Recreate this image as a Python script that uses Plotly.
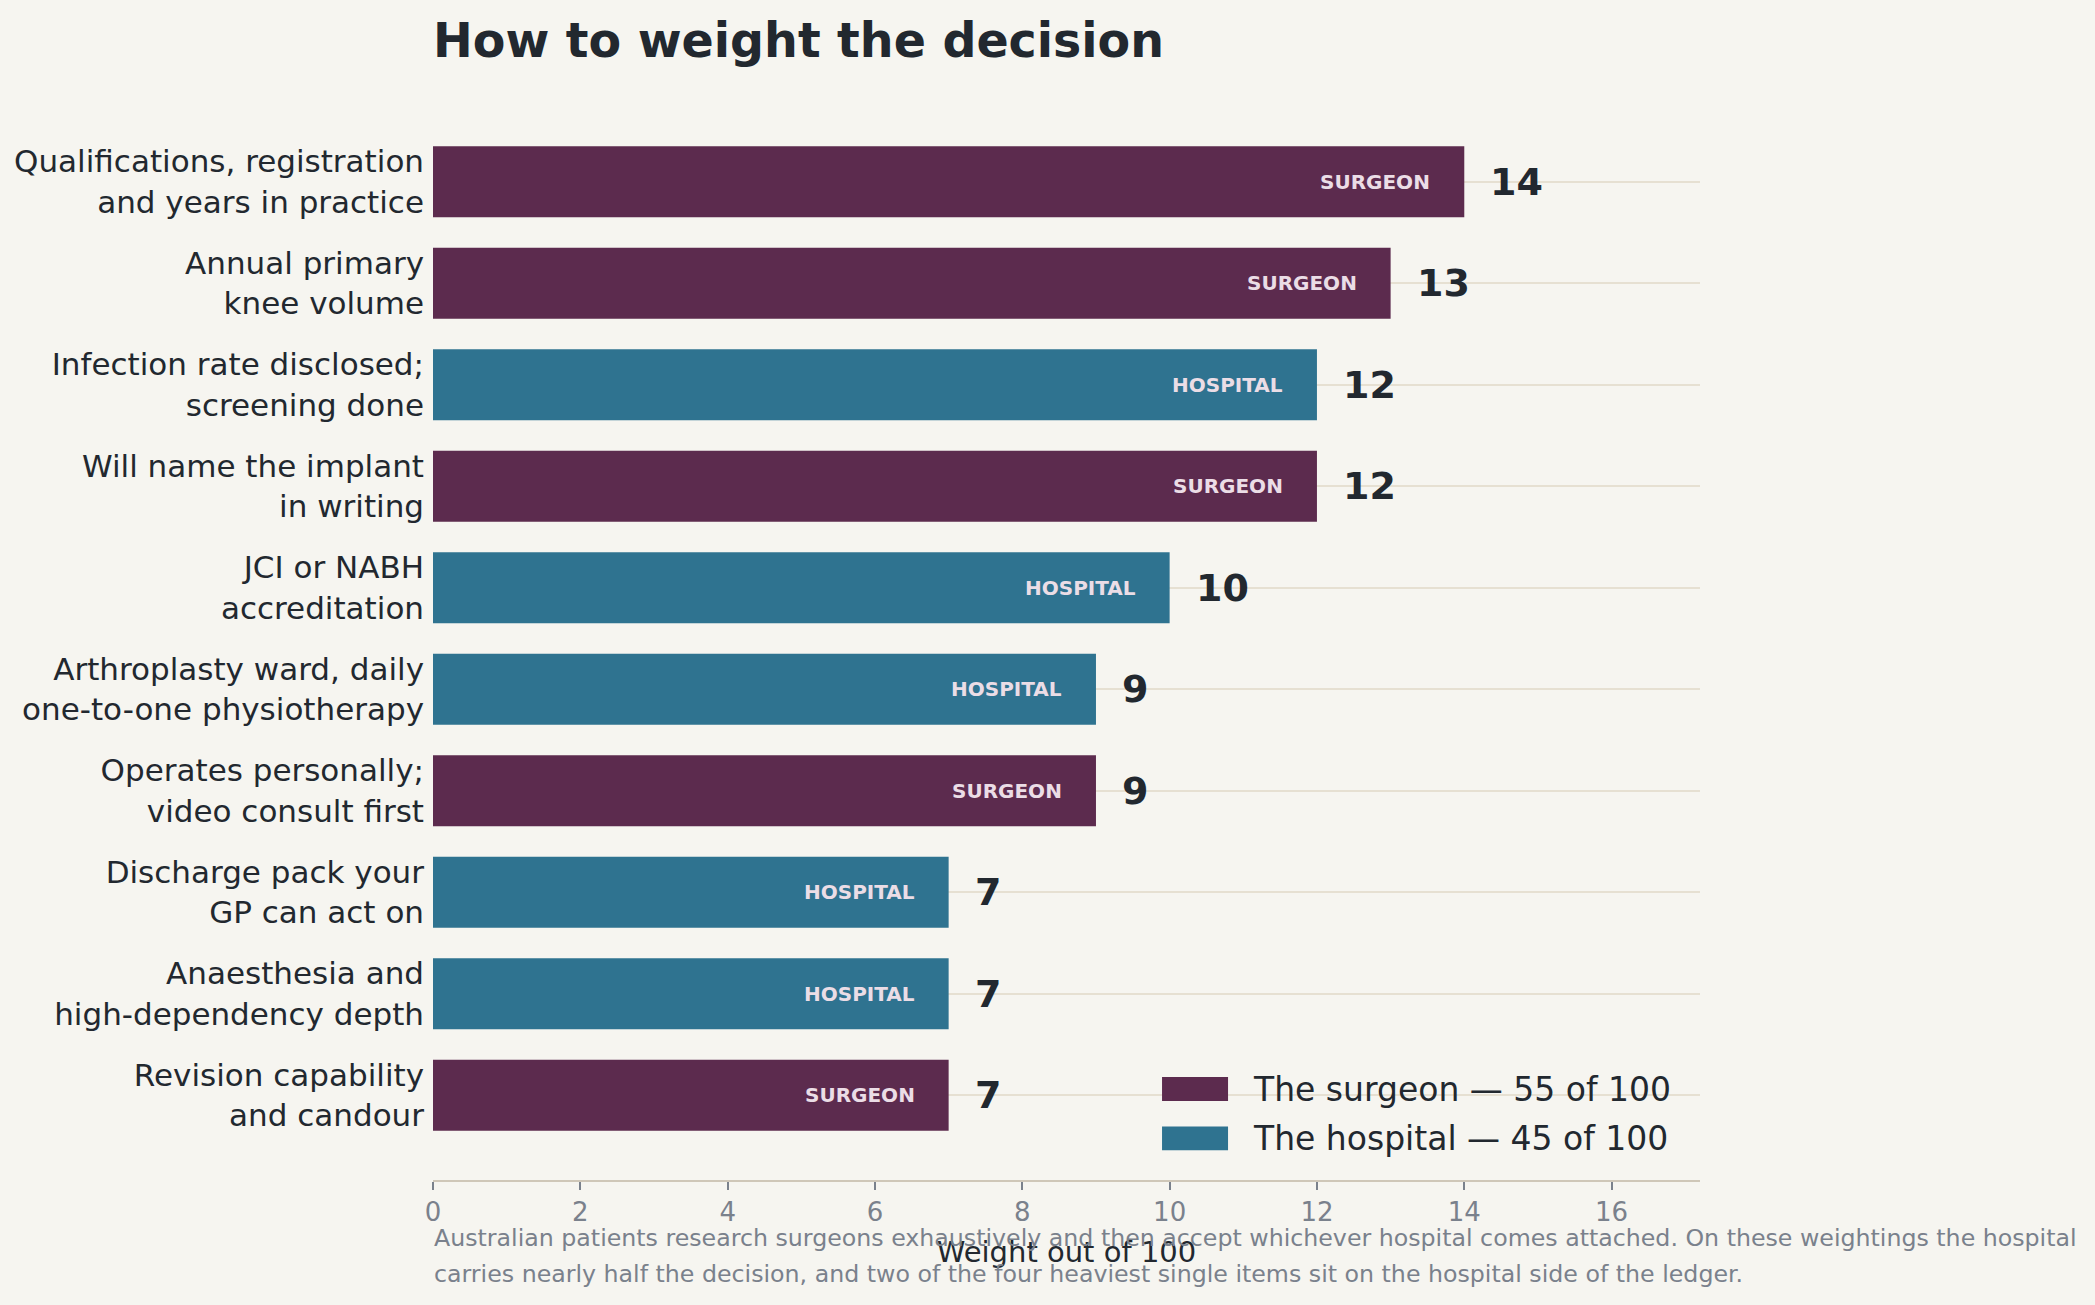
import plotly.graph_objects as go

# criteria, top to bottom
items = [
    "Qualifications, registration<br>and years in practice",
    "Annual primary<br>knee volume",
    "Infection rate disclosed;<br>screening done",
    "Will name the implant<br>in writing",
    "JCI or NABH<br>accreditation",
    "Arthroplasty ward, daily<br>one-to-one physiotherapy",
    "Operates personally;<br>video consult first",
    "Discharge pack your<br>GP can act on",
    "Anaesthesia and<br>high-dependency depth",
    "Revision capability<br>and candour",
]
weights = [14, 13, 12, 12, 10, 9, 9, 7, 7, 7]
side = ["SURGEON", "SURGEON", "HOSPITAL", "SURGEON", "HOSPITAL",
        "HOSPITAL", "SURGEON", "HOSPITAL", "HOSPITAL", "SURGEON"]

sides = ["SURGEON", "HOSPITAL"]
legend_names = ["The surgeon — 55 of 100", "The hospital — 45 of 100"]
colors = {"SURGEON": "#5C2B4E", "HOSPITAL": "#2F7390"}

caption_lines = [
    "Australian patients research surgeons exhaustively and then accept whichever hospital comes attached. "
    "On these weightings the hospital",
    "carries nearly half the decision, and two of the four heaviest single items sit on the hospital side of the ledger.",
]

BG = "#F6F5F0"
INK = "#22282F"
GREY = "#7A818C"
FONT = "DejaVu Sans"

fig = go.Figure()
for s, nm in zip(sides, legend_names):
    ys = [it for it, sd in zip(items, side) if sd == s]
    xs = [w for w, sd in zip(weights, side) if sd == s]
    fig.add_trace(go.Bar(
        x=xs, y=ys, orientation="h", width=0.7,
        marker=dict(color=colors[s], line=dict(width=0)),
        name=nm, hoverinfo="skip", showlegend=False,
    ))

# value labels and side tags
for it, w, s in zip(items, weights, side):
    fig.add_annotation(x=w, y=it, text=f"<b>{w}</b>", showarrow=False,
                       xanchor="left", xshift=24,
                       font=dict(family=FONT, size=38, color=INK))
    fig.add_annotation(x=w, y=it, text=f"<b>{s}</b>", showarrow=False,
                       xanchor="right", xshift=-32,
                       font=dict(family=FONT, size=20, color="#EBDDE6"))

# legend drawn by hand so the swatches are wide rectangles like the original
for i, (s, nm) in enumerate(zip(sides, legend_names)):
    yc = 0.084 - i * 0.0455
    fig.add_shape(type="rect", xref="paper", yref="paper",
                  x0=0.5754, x1=0.6275, y0=yc - 0.011, y1=yc + 0.011,
                  fillcolor=colors[s], line=dict(width=0), layer="above")
    fig.add_annotation(x=0.648, y=yc, xref="paper", yref="paper", text=nm,
                       showarrow=False, xanchor="left", yanchor="middle", xshift=-3,
                       font=dict(family=FONT, size=33, color=INK))

for i, line in enumerate(caption_lines):
    fig.add_annotation(x=0, y=0, xref="paper", yref="paper", xanchor="left", yanchor="middle",
                       xshift=-1, yshift=-(58 + 36 * i), text=line, showarrow=False, align="left",
                       font=dict(family=FONT, size=23.7, color=GREY))

fig.update_layout(
    width=2095, height=1305,
    paper_bgcolor=BG, plot_bgcolor=BG,
    margin=dict(l=433, r=395, t=97, b=125),
    barmode="overlay",
    font=dict(family=FONT, color=INK),
    title=dict(text="<b>How to weight the decision</b>", x=433 / 2095, xanchor="left",
               y=1 - 40 / 1305, yanchor="middle",
               font=dict(family=FONT, size=47.5, color=INK)),
    showlegend=False,
)
fig.update_xaxes(range=[0, 17.2], dtick=2, tick0=0, automargin=False,
                 showgrid=False, zeroline=False,
                 showline=True, linecolor="#CFC7B8", linewidth=2,
                 ticks="outside", ticklen=8, tickwidth=2, tickcolor=GREY,
                 tickfont=dict(family=FONT, size=26, color=GREY),
                 title=dict(text="Weight out of 100", standoff=15,
                            font=dict(family=FONT, size=29, color=INK)))
fig.update_yaxes(categoryorder="array", categoryarray=items,
                 range=[9.835, -0.835], automargin=False,
                 showgrid=True, gridcolor="#E6E0D2", gridwidth=2,
                 showline=False, zeroline=False, ticks="",
                 ticklabelstandoff=8,
                 tickfont=dict(family=FONT, size=31, color=INK))

# drop the page margin so the figure fills the window edge to edge
fig.write_html("out.html",
               config={"displayModeBar": False},
               post_script="document.body.style.margin='0';"
                           "document.body.style.overflow='hidden';"
                           "document.body.style.background='%s';" % BG)
